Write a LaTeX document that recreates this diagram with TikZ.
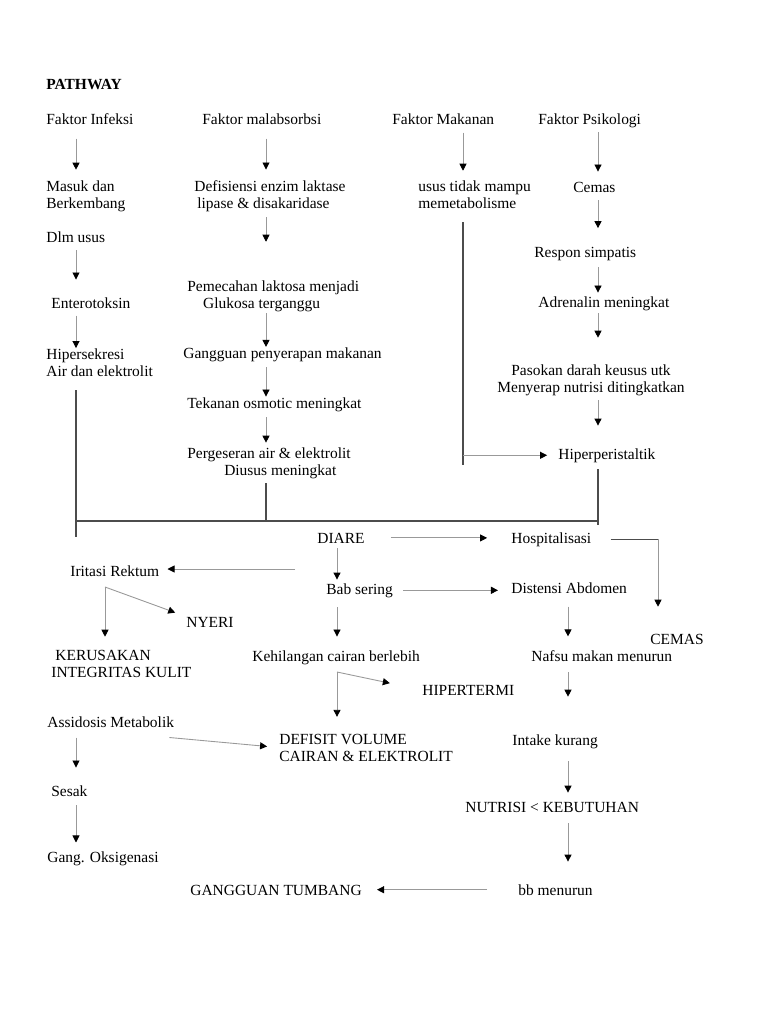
\documentclass[tikz,border=0pt]{standalone}
\usepackage{fontspec}
\setmainfont{Liberation Serif}
\usetikzlibrary{arrows.meta,calc}

\begin{document}
\begin{tikzpicture}[x=0.02cm, y=-0.02cm, line join=round,
	txt/.style={anchor=base west, inner sep=0pt, align=left, font=\fontsize{8.8}{9.6}\selectfont},
	arr/.style={draw=black!40, line width=0.5pt, -{Triangle[width=4pt, length=4pt, color=black]}},
	bus/.style={draw=black!70, line width=0.8pt}]

\useasboundingbox[fill=white] (0,0) rectangle (768,1024);

\coordinate (colA) at (76, 0);
\coordinate (colB) at (266, 0);
\coordinate (colC) at (463, 0);
\coordinate (colD) at (598, 0);
\coordinate (colE) at (337, 0);
\coordinate (colF) at (568, 0);
\coordinate (colG) at (105, 0);
\coordinate (colH) at (658, 0);

\node (title) at (46, 90) [txt, font=\bfseries\fontsize{8.8}{9.6}\selectfont] {PATHWAY};

\node (infeksi) at (46, 125) [txt] {Faktor Infeksi};
\node (malabs) at (202, 125) [txt] {Faktor malabsorbsi};
\node (makanan) at (392, 125) [txt] {Faktor Makanan};
\node (psiko) at (538, 125) [txt] {Faktor Psikologi};

\node (masuk) at (46, 208) [txt] {Masuk dan\\Berkembang};
\node (defisiensi) at (194, 208) [txt] {Defisiensi enzim laktase\\\hspace*{1.7pt}lipase \& disakaridase};
\node (usus) at (418, 208) [txt] {usus tidak mampu\\memetabolisme};
\node (cemas) at (573, 192) [txt] {Cemas};
\node (dlm) at (46, 242) [txt] {Dlm usus};
\node (respon) at (534, 257) [txt] {Respon simpatis};

\node (pemecahan) at (187, 308) [txt] {Pemecahan laktosa menjadi\\\hspace*{9pt}Glukosa terganggu};
\node (entero) at (51, 308) [txt] {Enterotoksin};
\node (adrenalin) at (538, 307) [txt] {Adrenalin meningkat};
\node (hipersek) at (46, 376) [txt] {Hipersekresi\\Air dan elektrolit};
\node (gangguan) at (183, 358) [txt] {Gangguan penyerapan makanan};
\node (pasokan) at (591, 392) [txt, anchor=base, align=center] {Pasokan darah keusus utk\\Menyerap nutrisi ditingkatkan};
\node (tekanan) at (187, 408) [txt] {Tekanan osmotic meningkat};
\node (pergeseran) at (187, 475) [txt] {Pergeseran air \& elektrolit\\\hspace*{21pt}Diusus meningkat};
\node (hiper) at (558, 459) [txt] {Hiperperistaltik};

\node (diare) at (317, 543) [txt] {DIARE};
\node (hosp) at (511, 543) [txt] {Hospitalisasi};
\node (iritasi) at (70, 576) [txt] {Iritasi Rektum};
\node (bab) at (326, 594) [txt] {Bab sering};
\node (distensi) at (511, 593) [txt] {Distensi Abdomen};
\node (nyeri) at (186, 627) [txt] {NYERI};
\node (cemasB) at (650, 644) [txt] {CEMAS};
\node (kerusakan) at (51, 677) [txt] {\hspace*{2.3pt}KERUSAKAN\\INTEGRITAS KULIT};
\node (kehilangan) at (252, 661) [txt] {Kehilangan cairan berlebih};
\node (nafsu) at (531, 661) [txt] {Nafsu makan menurun};
\node (hipertermi) at (422, 695) [txt] {HIPERTERMI};
\node (assidosis) at (47, 727) [txt] {Assidosis Metabolik};
\node (defisit) at (279, 761) [txt] {DEFISIT VOLUME\\CAIRAN \& ELEKTROLIT};
\node (intake) at (512, 745) [txt] {Intake kurang};
\node (sesak) at (51, 796) [txt] {Sesak};
\node (nutrisi) at (465, 812) [txt] {NUTRISI < KEBUTUHAN};
\node (oksigenasi) at (47, 862) [txt] {Gang. Oksigenasi};
\node (tumbang) at (190, 895) [txt] {GANGGUAN TUMBANG};
\node (bb) at (518, 895) [txt] {bb menurun};

\coordinate (busL) at (76, 521);
\coordinate (busR) at (598, 521);
\coordinate (busEndL) at (76, 537);
\coordinate (busEndR) at (598, 525);
\coordinate (ususEnd) at (463, 465);
\coordinate (diareL) at (295, 569);
\coordinate (iritB) at (105, 587);
\coordinate (kehB) at (337, 672);

\draw[arr, shorten <=7.4pt, shorten >=5.9pt] (infeksi.south -| colA) -- (masuk.north -| colA);
\draw[arr, shorten <=4.5pt, shorten >=9.9pt] (dlm.south -| colA) -- (entero.north -| colA);
\draw[arr, shorten <=4.0pt] (entero.south -| colA) -- (hipersek.north -| colA);

\draw[arr, shorten <=7.4pt, shorten >=5.9pt] (malabs.south -| colB) -- (defisiensi.north -| colB);
\draw[arr, shorten <=3.2pt, shorten >=21.8pt] (defisiensi.south -| colB) -- (pemecahan.north -| colB);
\draw[arr, shorten <=0.9pt] (pemecahan.south -| colB) -- (gangguan.north -| colB);
\draw[arr, shorten <=3.2pt, shorten >=0.2pt] (gangguan.south -| colB) -- (tekanan.north -| colB);
\draw[arr, shorten <=3.2pt, shorten >=2.5pt] (tekanan.south -| colB) -- (pergeseran.north -| colB);

\draw[arr, shorten <=4pt, shorten >=5.3pt] (makanan.south -| colC) -- (usus.north -| colC);
\draw[bus, shorten <=7.9pt] (usus.south -| colC) -- (ususEnd);
\draw[arr, shorten >=6.2pt] (colC |- hiper.west) -- (hiper.west);

\draw[arr, shorten <=2pt, shorten >=5.6pt] (psiko.south -| colD) -- (cemas.north -| colD);
\draw[arr, shorten <=4.5pt, shorten >=10.4pt] (cemas.south -| colD) -- (respon.north -| colD);
\draw[arr, shorten <=3.7pt, shorten >=1.9pt] (respon.south -| colD) -- (adrenalin.north -| colD);
\draw[arr, shorten <=1.5pt, shorten >=15pt] (adrenalin.south -| colD) -- (pasokan.north -| colD);
\draw[arr, shorten <=2.6pt, shorten >=12.7pt] (pasokan.south -| colD) -- (hiper.north -| colD);

\draw[bus, shorten <=7.9pt] (hipersek.south -| colA) -- (busEndL);
\draw[bus] (busL) -- (busR);
\draw[bus, shorten <=2.6pt] (pergeseran.south -| colB) -- (colB |- busL);
\draw[bus, shorten <=3.7pt] (hiper.south -| colD) -- (busEndR);

\draw[arr, shorten <=14.7pt, shorten >=13.6pt] (diare.east) -- (diare.east -| hosp.west);
\draw[bus, line width=0.6pt, shorten <=10.8pt] (hosp.east) -- (colH |- hosp.east);
\draw[arr, shorten >=15.2pt] (colH |- hosp.east) -- (cemasB.north -| colH);
\draw[arr, shorten >=4.5pt] (diareL) -- (iritasi.east |- diareL);
\draw[arr, shorten <=2.8pt, shorten >=1.9pt] (diare.south -| colE) -- (bab.north -| colE);
\draw[arr, shorten <=5.7pt, shorten >=7.4pt] (bab.east) -- (bab.east -| distensi.west);

\draw[arr, shorten >=7.3pt] (iritB) -- (kerusakan.north -| iritB);
\draw[arr, shorten >=6.5pt] (iritB) -- (nyeri.north west);

\draw[arr, shorten <=5.4pt, shorten >=7.6pt] (bab.south -| colE) -- (kehilangan.north -| colE);
\draw[arr, shorten >=9.5pt] (kehB) -- (defisit.north -| kehB);
\draw[arr, shorten >=18.7pt] (kehB) -- (hipertermi.west);

\draw[arr, shorten <=7.4pt, shorten >=7.6pt] (distensi.south -| colF) -- (nafsu.north -| colF);
\draw[arr, shorten <=6.2pt, shorten >=21.2pt] (nafsu.south -| colF) -- (intake.north -| colF);
\draw[arr, shorten <=7.1pt, shorten >=5pt] (intake.south -| colF) -- (nutrisi.north -| colF);
\draw[arr, shorten <=6.2pt, shorten >=12.7pt] (nutrisi.south -| colF) -- (bb.north -| colF);
\draw[arr, shorten <=17.6pt, shorten >=8.5pt] (bb.west) -- (bb.west -| tumbang.east);

\draw[arr, shorten >=6.8pt] ($(assidosis.south east)+(-5,10)$) -- (defisit.west);
\draw[arr, shorten <=5.7pt, shorten >=9.9pt] (assidosis.south -| colA) -- (sesak.north -| colA);
\draw[arr, shorten <=5.1pt, shorten >=4.8pt] (sesak.south -| colA) -- (oksigenasi.north -| colA);

\end{tikzpicture}
\end{document}
